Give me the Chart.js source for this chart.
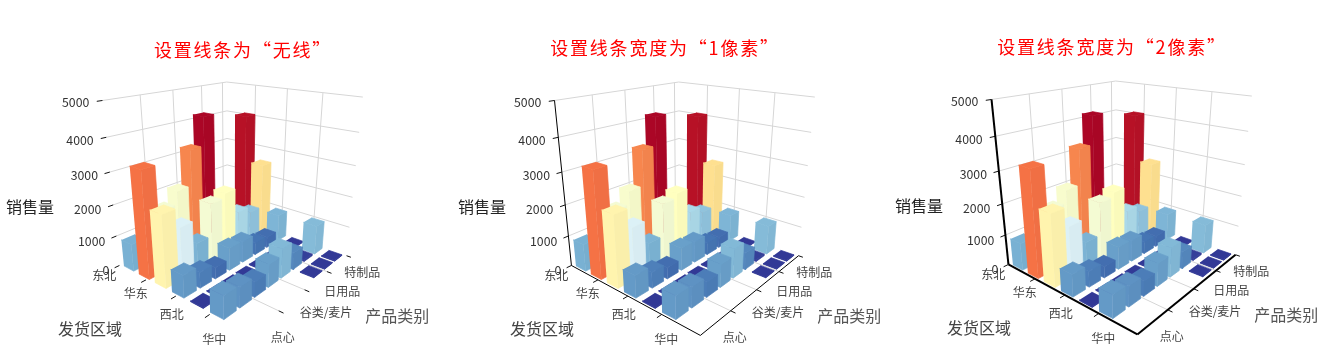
<!DOCTYPE html>
<html><head><meta charset="utf-8">
<style>html,body{margin:0;padding:0;background:#fff;width:1339px;height:362px;overflow:hidden}
.p{position:absolute;top:0}</style>
<script src="https://cdn.jsdelivr.net/npm/chart.js@4"></script>
</head><body>
<script>
const regions=["东北","华北","华东","华南","西北","西南","华中"];
const products=["点心","调味品","谷类/麦片","海鲜","日用品","肉/家禽","特制品","饮料"];
const zTicks=[0,1000,2000,3000,4000,5000];
const dongbei=[880,null,null,2000,3200,4150,null,null];
const huabei=[3330,1950,null,null,null,null,null,4050];
const huadong=[2250,1650,900,1950,2100,1260,1050,2520];
const huanan=[700,500,370,740,700,420,370,920];
const xibei=[20,20,20,20,20,20,20,20];
const xinan=[700,640,480,740,950,560,60,970];
const huazhong=[null,null,null,null,null,20,20,20];
const rows=[dongbei,huabei,huadong,huanan,xibei,xinan,huazhong];
const titles=["设置线条为“无线”","设置线条宽度为“1像素”","设置线条宽度为“2像素”"];

const palette=["#313695","#4575b4","#74add1","#abd9e9","#e0f3f8","#ffffbf","#fee090","#fdae61","#f46d43","#d73027","#a50026"];
const colorMax=4200;
function rgb(h){return [1,3,5].map(k=>parseInt(h.substr(k,2),16));}
function colorOf(v,shade){
  const t=Math.min(Math.max(v/colorMax,0),1)*(palette.length-1),a=Math.min(Math.floor(t),palette.length-2),f=t-a;
  const A=rgb(palette[a]),B=rgb(palette[a+1]);
  return 'rgb('+A.map((c,k)=>Math.round((c+(B[k]-c)*f)*shade)).join(',')+')';
}
// camera fit: reference corners (in 3x panel units) of the cube
const anchors=[[0,0,0,359,705],[1,0,0,746,915],[1,1,0,1039,680],[0,1,0,683,552],
 [0,0,1,309,210],[0,1,1,680,157],[1,1,1,1088,200],
 [0,0,.2,347,620],[0,0,.6,329,428],[1,1,.2,1048,590],[1,1,.6,1068,408],[0,1,.6,681,325]];
function solveCamera(){
  const N=11,A=Array.from({length:N},()=>new Array(N+1).fill(0));
  const add=(r,b)=>{for(let a=0;a<N;a++){for(let c=0;c<N;c++)A[a][c]+=r[a]*r[c];A[a][N]+=r[a]*b;}};
  anchors.forEach(([X,Y,Z,x0,y0])=>{const x=x0/1000,y=y0/1000;
    add([X,Y,Z,1,0,0,0,0,-x*X,-x*Y,-x*Z],x);add([0,0,0,0,X,Y,Z,1,-y*X,-y*Y,-y*Z],y);});
  for(let c=0;c<N;c++){let m=c;for(let r=c+1;r<N;r++)if(Math.abs(A[r][c])>Math.abs(A[m][c]))m=r;
    [A[c],A[m]]=[A[m],A[c]];
    for(let r=0;r<N;r++)if(r!==c){const f=A[r][c]/A[c][c];for(let k=c;k<=N;k++)A[r][k]-=f*A[c][k];}}
  return A.map((r,k)=>r[N]/r[k]);
}
const P=solveCamera();
function proj(u,v,w){const d=P[8]*u+P[9]*v+P[10]*w+1;
  return [(P[0]*u+P[1]*v+P[2]*w+P[3])/d*1000/3,(P[4]*u+P[5]*v+P[6]*w+P[7])/d*1000/3+30];}

const panels=[
 {left:0,width:486,dx:0,dy:0,titleY:50,axis:0},
 {left:438,width:454,dx:452,dy:0,titleY:48,axis:1},
 {left:880,width:464,dx:889,dy:-1,titleY:46.7,axis:2}];
const H=362,barU=.66,barV=.76;
const labelSpots=[["销售量",90,532,16,"#222"],["发货区域",270,898,16,"#444"],["产品类别",1192,858,16,"#555"],
 ["东北",313,737,12,"#444"],["华东",407,790,12,"#444"],["西北",515,853,12,"#444"],["华中",643,928,12,"#444"],
 ["点心",848,923,12,"#444"],["谷类/麦片",978,848,12,"#444"],["日用品",1027,783,12,"#444"],["特制品",1087,727,12,"#444"],
 ["5000",227,217,12.3,"#333"],["4000",240,330,12.3,"#333"],["3000",253,437,12.3,"#333"],["2000",263,538,12.3,"#333"],["1000",275,633,12.3,"#333"],["0",318,722,12.3,"#333"]];

function build(p){
  const toXY=(q)=>({x:q[0]+p.dx-p.left,y:q[1]+p.dy});
  const out=[];
  const line=(a,b,color,w)=>out.push({data:[toXY(proj(...a)),toXY(proj(...b))],borderColor:color,borderWidth:w,fill:false,showLine:true,pointRadius:0,clip:false});
  const poly=(pts,color)=>out.push({data:pts.map(q=>toXY(proj(...q))),borderColor:color,backgroundColor:color,borderWidth:.7,fill:'shape',showLine:true,pointRadius:0,clip:false});
  const g='#d6d6d6';
  zTicks.forEach(t=>{if(!t)return;const w=t/5000;line([0,0,w],[0,1,w],g,1);line([0,1,w],[1,1,w],g,1);});
  [.25,.5,.75,.955].forEach(v=>line([0,v,0],[0,v,1],g,1));
  [.25,.5,.75].forEach(u=>line([u,1,0],[u,1,1],g,1));
  [.25,.5,.75].forEach(v=>line([.8,v,0],[1,v,0],g,1));
  rows.forEach((row,i)=>{for(let j=products.length-1;j>=0;j--){const val=row[j];if(val==null)continue;
    const nu=rows.length,nv=products.length;
    const u0=(i+(1-barU)/2)/nu,u1=(i+(1+barU)/2)/nu,v0=(j+(1-barV)/2)/nv,v1=(j+(1+barV)/2)/nv,w=val/5000;
    poly([[u0,v0,0],[u1,v0,0],[u1,v0,w],[u0,v0,w]],colorOf(val,1));
    poly([[u1,v0,0],[u1,v1,0],[u1,v1,w],[u1,v0,w]],colorOf(val,.98));
    poly([[u0,v0,w],[u1,v0,w],[u1,v1,w],[u0,v1,w]],colorOf(val,1));
  }});
  const tk='#111';
  zTicks.forEach(t=>line([0,-.035,t/5000],[0,0,t/5000],tk,1));
  [.25,.5,.75].forEach(u=>line([u,-.035,0],[u,0,0],tk,1));
  [.25,.5,.75,1].forEach(v=>line([1,v,0],[1.03,v,0],tk,1));
  if(p.axis){line([0,0,0],[0,0,1],'#000',p.axis);line([0,0,0],[1,0,0],'#000',p.axis);line([1,0,0],[1,1,0],'#000',p.axis);}
  return out.reverse();
}
panels.forEach((p,k)=>{
  const box=document.createElement('div');box.className='p';box.style.left=p.left+'px';box.style.width=p.width+'px';box.style.height=H+'px';
  const c=document.createElement('canvas');c.width=p.width;c.height=H;c.style.width=p.width+'px';c.style.height=H+'px';box.appendChild(c);document.body.appendChild(box);
  const fs=18,lh=1.2,T=p.titleY-fs*lh/2+fs*lh;
  new Chart(c,{type:'scatter',data:{datasets:build(p)},
   options:{responsive:false,animation:false,devicePixelRatio:1,layout:{padding:0},
    scales:{x:{type:'linear',display:false,min:0,max:p.width},y:{type:'linear',display:false,reverse:true,min:T,max:H}},
    plugins:{legend:{display:false},tooltip:{enabled:false},
     title:{display:true,text:titles[k],color:'#ff0000',font:{family:'"Noto Sans CJK SC"',size:fs,weight:'normal',lineHeight:lh},padding:{top:p.titleY-fs*lh/2,bottom:0}}}},
   plugins:[{id:'spacing',beforeDraw(ch){ch.ctx.letterSpacing='1.8px';},beforeDatasetsDraw(ch){ch.ctx.letterSpacing='0px';}},
    {id:'texts',afterDatasetsDraw(ch){const x=ch.ctx;x.save();x.textAlign='center';x.textBaseline='middle';
      labelSpots.forEach(([t,zx,zy,s,col])=>{x.font=s+'px "Noto Sans CJK SC"';x.fillStyle=col;x.fillText(t,zx/3+p.dx-p.left,zy/3+30+p.dy);});x.restore();}}]});
});
</script>
</body></html>
